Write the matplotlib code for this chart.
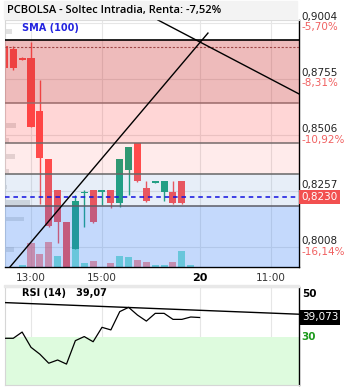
import matplotlib
matplotlib.use("Agg")
import matplotlib.pyplot as plt
from matplotlib.patches import Rectangle
from matplotlib.transforms import blended_transform_factory
import numpy as np

# 15 min candles, Soltec, day 19 from 12:15
opens = [0.8901, 0.8887, 0.8847, 0.8847, 0.8612, 0.8399, 0.8261, 0.8119, 0.8000, 0.8250, 0.8261,
         0.8253, 0.8261, 0.8204, 0.8350, 0.8470, 0.8270, 0.8293, 0.8253, 0.8253, 0.8301]
highs = [0.8901, 0.8901, 0.8850, 0.8918, 0.8750, 0.8399, 0.8261, 0.8119, 0.8239, 0.8261, 0.8261,
         0.8261, 0.8261, 0.8399, 0.8453, 0.8470, 0.8301, 0.8301, 0.8301, 0.8301, 0.8301]
lows = [0.8803, 0.8794, 0.8838, 0.8541, 0.8199, 0.8097, 0.8026, 0.7862, 0.8000, 0.8097, 0.8115,
        0.8195, 0.8182, 0.8186, 0.8239, 0.8297, 0.8208, 0.8293, 0.8213, 0.8199, 0.8199]
closes = [0.8803, 0.8803, 0.8838, 0.8541, 0.8404, 0.8102, 0.8119, 0.7884, 0.8213, 0.8255, 0.8119,
          0.8261, 0.8204, 0.8399, 0.8453, 0.8301, 0.8213, 0.8301, 0.8301, 0.8204, 0.8204]

volumes = [0, 0, 2, 24, 13, 25, 11, 40, 19, 4, 6, 0, 4, 11, 10, 7, 5, 2, 2, 5, 16, 2]
vol_up = [1, 1, 1, 0, 0, 0, 1, 0, 1, 1, 0, 1, 0, 1, 1, 0, 0, 1, 1, 0, 1, 1]

rsi = [29.4, 29.4, 32.3, 25.2, 22.0, 17.8, 19.3, 17.4, 28.3, 30.2, 27.8, 34.5, 33.3, 41.8,
       43.8, 40.2, 37.4, 41.0, 41.0, 38.2, 38.2, 39.3, 39.07]

# volume at price (left side)
profile_prices = [0.8965, 0.8548, 0.8483, 0.8410, 0.8346, 0.8275, 0.8206, 0.8133, 0.7997]
profile_sizes = [7, 11, 4, 10, 4, 2, 25, 19, 9]

price_ticks = [0.9004, 0.8755, 0.8506, 0.8257, 0.8008]
pct_ticks = ["-5,70%", "-8,31%", "-10,92%", None, "-16,14%"]  # 4th hidden by last price box
time_ticks = [3, 11, 22, 30]
time_labels = ["13:00", "15:00", "20", "11:00"]

top_line = 0.8927
ref_line = 0.8898
zone_levels = [0.8927, 0.8648, 0.8470, 0.8332, 0.8190]
last_price = 0.8230
last_rsi = 39.073

trend_a = ([0.63, 22.94], [0.7920, 0.8958])
trend_b = ([17.3, 33.2], [0.9016, 0.8688])
rsi_trend = ([0.07, 33.2], [46.0, 40.6])

RED = "#ff5252"
GREEN = "#1fa57c"

fig = plt.figure(figsize=(3.53, 3.90), dpi=100)
ax = fig.add_axes([5 / 353, 1 - 267 / 390, 294 / 353, 247 / 390])
rax = fig.add_axes([5 / 353, 1 - 385 / 390, 294 / 353, 98 / 390])

xlim = (0.07, 33.2)
ylim = (0.7920, 0.9016)
ax.set_xlim(xlim)
ax.set_ylim(ylim)

# grid
for t in time_ticks:
    ax.axvline(t, color="#e6e6e6", lw=0.8, zorder=0)
    rax.axvline(t, color="#e6e6e6", lw=0.8, zorder=0)
for p in price_ticks:
    ax.axhline(p, color="#e6e6e6", lw=0.8, zorder=0)

# volume profile
px = 294 / (xlim[1] - xlim[0])
ax.barh(profile_prices, np.array(profile_sizes) / px, height=0.0022, left=xlim[0],
        color="#bdbdbd", alpha=0.45, zorder=1)

# volume bars
vol_scale = (ylim[1] - ylim[0]) / 247
idx = np.arange(len(volumes))
vcols = ["#2ed3b7" if u else "#ff5252" for u in vol_up]
ax.bar(idx, np.array(volumes) * vol_scale, bottom=ylim[0], width=0.79, color=vcols,
       alpha=0.6, zorder=1.5)

# candles
for i, (o, h, l, c) in enumerate(zip(opens, highs, lows, closes)):
    col = GREEN if c >= o else RED
    ax.vlines(i, l, h, color=col, lw=1, zorder=2)
    ax.bar(i, max(abs(c - o), 0.0004), bottom=min(o, c), width=0.79, color=col, zorder=2)

# zones on top
zone_cols = [("#c81e1e", 0.3), ("#ff0000", 0.16), ("#ff0000", 0.08), ("#3c78c8", 0.12)]
for (lo, hi), (zc, za) in zip(zip(zone_levels[1:], zone_levels[:-1]), zone_cols):
    ax.axhspan(lo, hi, color=zc, alpha=za, lw=0, zorder=3)
ax.axhspan(ylim[0], zone_levels[-1], color="#2876f4", alpha=0.27, lw=0, zorder=3)

ax.axhline(top_line, color="black", lw=1.2, zorder=4)
ax.axhline(ref_line, color="#a04848", lw=0.8, ls=(0, (2, 1.5)), zorder=4)
for lv, lc in zip(zone_levels[1:], ["#9a6a6a", "#756a6a", "#666666", "#5c5c66"]):
    ax.axhline(lv, color=lc, lw=1.1, zorder=4)
ax.axhline(last_price, color="#1010e0", lw=1.1, ls=(0, (3, 2.5)), zorder=4)

ax.plot(*trend_a, color="black", lw=1, zorder=5)
ax.plot(*trend_b, color="black", lw=1, zorder=5)

ax.text(17 / 294, 0.9676, "SMA (100)", transform=ax.transAxes, color="#2424e0",
        fontsize=7, fontweight="bold", va="center", zorder=6)

# axis styling
for a in (ax, rax):
    for s in ("left", "top"):
        a.spines[s].set_color("#d6d6d6")
    a.spines["right"].set_color("black")
    a.spines["right"].set_linewidth(1)
    a.set_yticks([])
ax.spines["bottom"].set_color("black")
ax.spines["bottom"].set_linewidth(1)
rax.spines["bottom"].set_color("#d6d6d6")

ax.set_xticks(time_ticks)
ax.set_xticklabels(time_labels, fontsize=7.5, color="#333333")
ax.tick_params(axis="x", length=0, pad=4)
day_lbl = ax.get_xticklabels()[2]
day_lbl.set_fontweight("bold")
day_lbl.set_fontsize(8)
day_lbl.set_color("black")
rax.set_xticks([])

# price labels on right
for p, pc in zip(price_ticks, pct_ticks):
    ax.annotate(f"{p:.4f}".replace(".", ","), xy=(1, p), xycoords=("axes fraction", "data"),
                xytext=(2, 4.3), textcoords="offset points", fontsize=7.5, color="#222222",
                va="center", ha="left", annotation_clip=False)
    if pc:
        ax.annotate(pc, xy=(1, p), xycoords=("axes fraction", "data"),
                    xytext=(2, -3.3), textcoords="offset points", fontsize=7.5, color="#f06060",
                    va="center", ha="left", annotation_clip=False)
ax.annotate(f"{last_price:.4f}".replace(".", ","), xy=(1, last_price),
            xycoords=("axes fraction", "data"), xytext=(2, 0), textcoords="offset points",
            fontsize=7.5, color="white", va="center", ha="left", annotation_clip=False,
            bbox=dict(boxstyle="square,pad=0.22", fc="#f25050", ec="none"))

# RSI panel
rax.set_xlim(xlim)
rax.set_ylim(7.67, 53.26)
rax.axhspan(7.67, 30, color="#defbde", lw=0, zorder=0)
rax.plot(np.arange(len(rsi)), rsi, color="black", lw=0.9, zorder=3)
rax.plot(*rsi_trend, color="black", lw=1, zorder=3)
rax.text(17 / 294, 50.4, f"RSI (14)   {rsi[-1]:.2f}".replace(".", ","), fontsize=7,
         fontweight="bold", va="center",
         transform=blended_transform_factory(rax.transAxes, rax.transData))
rax.annotate("50", xy=(1, 50), xycoords=("axes fraction", "data"), xytext=(2, 0),
             textcoords="offset points", fontsize=7.5, fontweight="bold", va="center",
             annotation_clip=False)
rax.annotate("30", xy=(1, 30), xycoords=("axes fraction", "data"), xytext=(2, 0),
             textcoords="offset points", fontsize=7.5, fontweight="bold", color="#1c9a1c",
             va="center", annotation_clip=False)
rax.annotate(f"{last_rsi:.3f}".replace(".", ","), xy=(1, last_rsi),
             xycoords=("axes fraction", "data"), xytext=(2, 0), textcoords="offset points",
             fontsize=7.5, color="white", va="center", annotation_clip=False,
             bbox=dict(boxstyle="square,pad=0.22", fc="black", ec="none"))

# separator and title bar
fig.patches.append(Rectangle((4 / 353, 1 - 287 / 390), 295 / 353, 2 / 390,
                             transform=fig.transFigure, color="#e8e8e8", zorder=0))
fig.patches.append(Rectangle((4 / 353, 1 - 19 / 390), 293 / 353, 18 / 390,
                             transform=fig.transFigure, color="#f3f3f3", zorder=0))
fig.text(7 / 353, 1 - 10.5 / 390, "PCBOLSA - Soltec Intradia, Renta: -7,52%",
         fontsize=8, family="Open Sans", fontweight="semibold", va="center")

fig.savefig("out.png", dpi=100)
